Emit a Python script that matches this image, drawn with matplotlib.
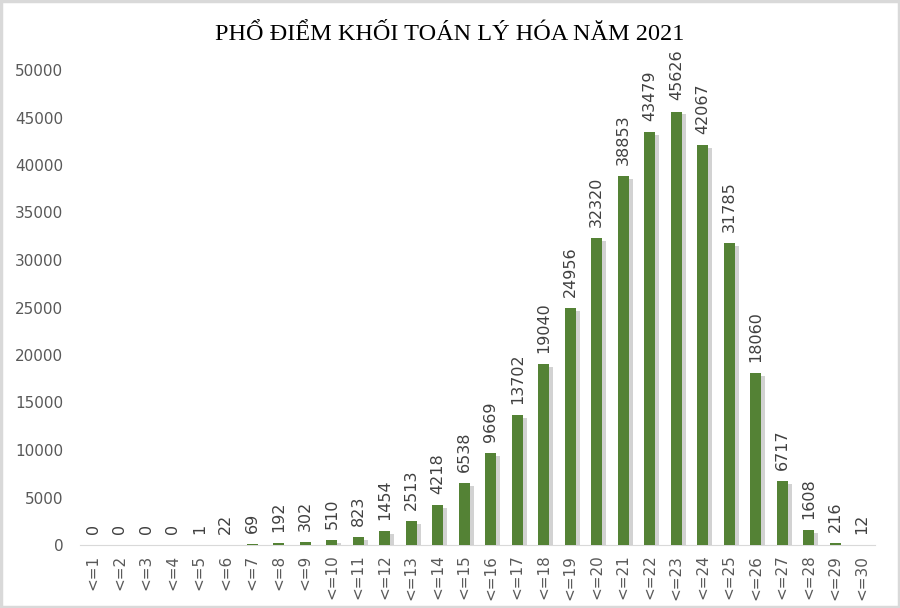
import matplotlib
matplotlib.use("Agg")
import matplotlib.pyplot as plt
from matplotlib import patheffects as pe

categories = ["<=%d" % i for i in range(1, 31)]
values = [0, 0, 0, 0, 1, 22, 69, 192, 302, 510, 823, 1454, 2513, 4218, 6538,
          9669, 13702, 19040, 24956, 32320, 38853, 43479, 45626, 42067, 31785,
          18060, 6717, 1608, 216, 12]
title = "PHỔ ĐIỂM KHỐI TOÁN LÝ HÓA NĂM 2021"

fig = plt.figure(figsize=(9, 6.08), dpi=100)
fig.patch.set_facecolor("white")
ax = fig.add_axes([80/900, 1-545/608, 795/900, 475/608])

x = list(range(len(categories)))
bars = ax.bar(x, values, width=0.4, color="#548235", zorder=3)
for b in bars:
    b.set_path_effects([pe.SimplePatchShadow(offset=(3, -2), shadow_rgbFace="#7f7f7f", alpha=0.35), pe.Normal()])

for xi, v in zip(x, values):
    ax.annotate(str(v), (xi, v), xytext=(0, 8), textcoords="offset points",
                rotation=90, ha="center", va="bottom", fontsize=11.5, color="#404040")

ax.set_xlim(-0.5, len(categories) - 0.5)
ax.set_ylim(0, 50000)
ax.set_yticks(range(0, 50001, 5000))
ax.set_xticks(x)
ax.set_xticklabels(categories, rotation=90, fontsize=11, color="#595959")
ax.tick_params(axis="y", length=0, labelsize=11, labelcolor="#595959", pad=12)
ax.tick_params(axis="x", length=0, pad=7)
for s in ["top", "right", "left"]:
    ax.spines[s].set_visible(False)
ax.spines["bottom"].set_color("#d9d9d9")

fig.text(0.5, 1-34/608, title, ha="center", va="center", fontsize=17.5,
         family="Liberation Serif", color="#000000")

border = plt.Rectangle((0.0015, 0.002), 0.997, 0.996, transform=fig.transFigure,
                       fill=False, edgecolor="#d9d9d9", linewidth=2.5)
fig.patches.append(border)

fig.savefig("out.png", dpi=100)
